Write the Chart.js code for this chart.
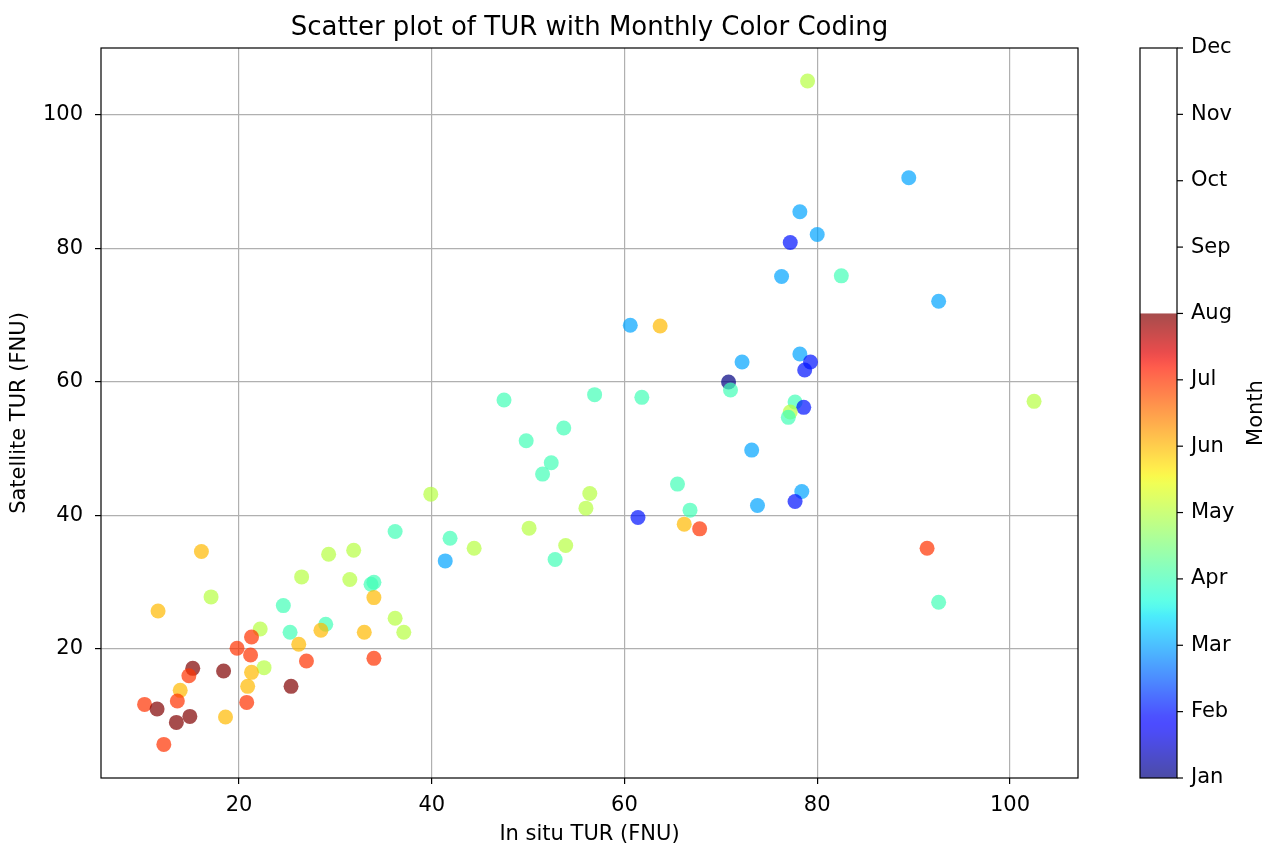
<!DOCTYPE html>
<html>
<head>
<meta charset="utf-8">
<script src="https://cdn.jsdelivr.net/npm/chart.js@4.4.1/dist/chart.umd.min.js"></script>
<style>
  html, body { margin: 0; padding: 0; background: #fff; }
  #wrap { width: 1264px; height: 845px; }
</style>
</head>
<body>
<div id="wrap"><canvas id="chart" width="1264" height="845"></canvas></div>
<script>
// in situ vs satellite turbidity, one entry per match-up
const insitu = [
  16.1, 17.1, 11.6, 36.2, 29.3, 31.9, 26.5, 31.5, 33.7, 34.0,
  34.0, 24.6, 36.2, 37.1, 25.3, 29.0, 28.5, 22.2, 21.3, 33.0,
  26.2, 19.8, 21.2, 27.0, 34.0, 15.2, 14.8, 18.4, 22.6, 21.3,
  25.4, 20.9, 13.9, 13.6, 20.8, 10.2, 11.5, 13.5, 14.9, 18.6,
  12.2, 47.5, 49.8, 39.9, 41.9, 44.4, 41.4, 60.6, 63.7, 72.2,
  70.8, 71.0, 56.9, 61.8, 53.7, 52.4, 51.5, 73.2, 65.5, 56.4,
  56.0, 73.8, 66.8, 61.4, 66.2, 67.8, 50.1, 53.9, 52.8, 78.2,
  80.0, 77.2, 76.3, 82.5, 78.2, 79.3, 78.7, 77.7, 78.6, 77.2,
  77.0, 79.0, 89.5, 92.6, 102.5, 91.4, 92.6, 78.4, 77.7
];
const satellite = [
  34.6, 27.8, 25.7, 37.6, 34.2, 34.8, 30.8, 30.4, 29.7, 30.0,
  27.7, 26.5, 24.6, 22.5, 22.5, 23.7, 22.8, 23.0, 21.8, 22.5,
  20.7, 20.1, 19.1, 18.2, 18.6, 17.1, 16.0, 16.7, 17.2, 16.5,
  14.4, 14.4, 13.8, 12.2, 12.0, 11.7, 11.0, 9.0, 9.9, 9.8,
  5.7, 57.3, 51.2, 43.2, 36.6, 35.1, 33.2, 68.5, 68.4, 63.0,
  60.0, 58.8, 58.1, 57.7, 53.1, 47.9, 46.2, 49.8, 44.7, 43.3,
  41.1, 41.5, 40.8, 39.7, 38.7, 38.0, 38.1, 35.5, 33.4, 85.5,
  82.1, 80.9, 75.8, 75.9, 64.2, 63.0, 61.8, 57.0, 56.2, 55.5,
  54.7, 105.1, 90.6, 72.1, 57.1, 35.1, 27.0, 43.6, 42.1
];
const month = [
  6, 5, 6, 4, 5, 5, 5, 5, 4, 4,
  6, 4, 5, 5, 4, 4, 6, 5, 7, 6,
  6, 7, 7, 7, 7, 8, 7, 8, 5, 6,
  8, 6, 6, 7, 7, 7, 8, 8, 8, 6,
  7, 4, 4, 5, 4, 5, 3, 3, 6, 3,
  1, 4, 4, 4, 4, 4, 4, 3, 4, 5,
  5, 3, 4, 2, 6, 7, 5, 5, 4, 3,
  3, 2, 3, 4, 3, 2, 2, 4, 2, 5,
  4, 5, 3, 3, 5, 7, 4, 3, 2
];
const monthNames = ['Jan', 'Feb', 'Mar', 'Apr', 'May', 'Jun', 'Jul', 'Aug', 'Sep', 'Oct', 'Nov', 'Dec'];
const xTicks = [20, 40, 60, 80, 100];
const yTicks = [20, 40, 60, 80, 100];

const monthMin = 1, monthMax = 8;
const FONT = 'DejaVu Sans';
const TXT = 21;

// matplotlib "jet" segment data
const jetR = [[0, 0], [0.35, 0], [0.66, 1], [0.89, 1], [1, 0.5]];
const jetG = [[0, 0], [0.125, 0], [0.375, 1], [0.64, 1], [0.91, 0], [1, 0]];
const jetB = [[0, 0.5], [0.11, 1], [0.34, 1], [0.65, 0], [1, 0]];

function seg(pts, t) {
  for (let i = 1; i < pts.length; i++) {
    if (t <= pts[i][0]) {
      const [x0, y0] = pts[i - 1], [x1, y1] = pts[i];
      return y0 + (y1 - y0) * (t - x0) / (x1 - x0);
    }
  }
  return pts[pts.length - 1][1];
}
function jet(t, a) {
  t = Math.min(1, Math.max(0, t));
  const r = Math.round(seg(jetR, t) * 255);
  const g = Math.round(seg(jetG, t) * 255);
  const b = Math.round(seg(jetB, t) * 255);
  return `rgba(${r},${g},${b},${a})`;
}
function monthColor(m, a) {
  return jet((m - monthMin) / (monthMax - monthMin), a);
}

const points = insitu.map((x, i) => ({ x: x, y: satellite[i] }));

// axes frame (matplotlib spines)
const frame = {
  id: 'frame',
  afterDraw(chart) {
    const { ctx, chartArea: a } = chart;
    ctx.save();
    ctx.strokeStyle = '#000';
    ctx.lineWidth = 1.2;
    ctx.strokeRect(a.left, a.top, a.right - a.left, a.bottom - a.top);
    ctx.restore();
  }
};

// colour bar on the right
const colorbar = {
  id: 'colorbar',
  afterDraw(chart) {
    const { ctx, chartArea } = chart;
    const left = chartArea.right + 62, w = 37;
    const top = chartArea.top, bottom = chartArea.bottom;
    const step = (bottom - top) / (monthNames.length - 1);
    const yOf = m => bottom - (m - 1) * step;

    ctx.save();
    const g = ctx.createLinearGradient(0, yOf(monthMin), 0, yOf(monthMax));
    for (let i = 0; i <= 60; i++) g.addColorStop(i / 60, jet(i / 60, 0.7));
    ctx.fillStyle = g;
    ctx.fillRect(left, yOf(monthMax), w, yOf(monthMin) - yOf(monthMax));

    ctx.strokeStyle = '#000';
    ctx.lineWidth = 1.2;
    ctx.strokeRect(left, top, w, bottom - top);

    ctx.fillStyle = '#000';
    ctx.font = `${TXT}px "${FONT}"`;
    ctx.textAlign = 'left';
    ctx.textBaseline = 'middle';
    monthNames.forEach((name, i) => {
      const y = yOf(i + 1);
      ctx.beginPath();
      ctx.moveTo(left + w, y);
      ctx.lineTo(left + w + 6, y);
      ctx.stroke();
      ctx.fillText(name, left + w + 14, y);
    });

    ctx.translate(left + w + 80, (top + bottom) / 2);
    ctx.rotate(-Math.PI / 2);
    ctx.textAlign = 'center';
    ctx.fillText('Month', 0, 0);
    ctx.restore();
  }
};

new Chart(document.getElementById('chart'), {
  type: 'scatter',
  data: {
    datasets: [{
      label: 'TUR',
      data: points,
      pointRadius: 7.5,
      pointHoverRadius: 7.5,
      borderWidth: 0,
      backgroundColor: c => monthColor(month[c.dataIndex], 0.7)
    }]
  },
  options: {
    responsive: false,
    devicePixelRatio: 1,
    animation: false,
    events: [],
    layout: { padding: { top: 2, right: 186, bottom: 0, left: 0 } },
    plugins: {
      legend: { display: false },
      tooltip: { enabled: false },
      title: {
        display: true,
        text: 'Scatter plot of TUR with Monthly Color Coding',
        fullSize: false,
        color: '#000',
        font: { family: FONT, size: 26, weight: 'normal' },
        padding: { top: 11, bottom: 3.8 }
      }
    },
    scales: {
      x: {
        type: 'linear',
        min: 5.68,
        max: 107.06,
        z: 1,
        afterBuildTicks: s => { s.ticks = xTicks.map(v => ({ value: v })); },
        afterFit: s => { s.height = 67; },
        grid: { color: '#b0b0b0', lineWidth: 1.2, tickColor: '#000', tickLength: 6, tickWidth: 1.2 },
        border: { display: false },
        ticks: { color: '#000', font: { family: FONT, size: TXT }, padding: 9, maxRotation: 0 },
        title: {
          display: true,
          text: 'In situ TUR (FNU)',
          color: '#000',
          font: { family: FONT, size: TXT },
          padding: { top: 0, bottom: -2 }
        }
      },
      y: {
        type: 'linear',
        min: 0.67,
        max: 110.04,
        z: 1,
        afterBuildTicks: s => { s.ticks = yTicks.map(v => ({ value: v })); },
        afterFit: s => { s.width = 101; },
        grid: { color: '#b0b0b0', lineWidth: 1.2, tickColor: '#000', tickLength: 6, tickWidth: 1.2 },
        border: { display: false },
        ticks: { color: '#000', font: { family: FONT, size: TXT }, padding: 12 },
        title: {
          display: true,
          text: 'Satellite TUR (FNU)',
          color: '#000',
          font: { family: FONT, size: TXT },
          padding: { top: 7, bottom: 0 }
        }
      }
    }
  },
  plugins: [frame, colorbar]
});
</script>
</body>
</html>
